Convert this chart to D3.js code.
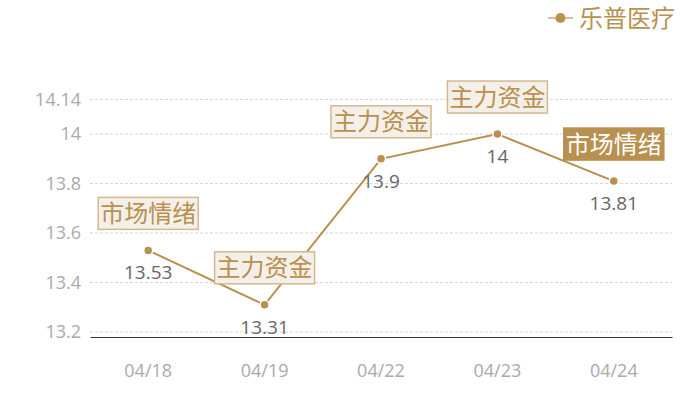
<!DOCTYPE html>
<html>
<head>
<meta charset="utf-8">
<script src="https://cdn.jsdelivr.net/npm/d3@7"></script>
<style>
    body { margin: 0; background: #fff; }
    text { font-family: "Noto Sans CJK SC", "Noto Sans", sans-serif; }
    .num { font-family: "Open Sans", "Noto Sans", sans-serif; }
</style>
</head>
<body>
<svg id="chart" width="700" height="400"></svg>
<script>
// chart data
let dates = ["04/18", "04/19", "04/22", "04/23", "04/24"];
let prices = [13.53, 13.31, 13.9, 14, 13.81];
let tags = ["市场情绪", "主力资金", "主力资金", "主力资金", "市场情绪"];
let highlighted = [false, false, false, false, true];
let yTicks = [13.2, 13.4, 13.6, 13.8, 14, 14.14];
let seriesName = "乐普医疗";

let gold = "#b8904f";
let svg = d3.select("#chart");

let plotLeft = 90, plotRight = 672, plotTop = 99.4, plotBottom = 337;

let xScale = d3.scaleBand()
    .domain(dates)
    .range([plotLeft, plotRight]);

let yScale = d3.scaleLinear()
    .domain([13.18, 14.14])
    .range([plotBottom, plotTop]);

let cx = d => xScale(d) + xScale.bandwidth() / 2;

// grid lines
svg.append("g")
    .selectAll("line")
    .data(yTicks)
    .enter()
    .append("line")
    .attr("x1", plotLeft)
    .attr("x2", plotRight)
    .attr("y1", d => yScale(d))
    .attr("y2", d => yScale(d))
    .attr("stroke", "#d6d6d6")
    .attr("stroke-dasharray", "3,2");

// y axis
let yAxis = d3.axisLeft(yScale)
    .tickValues(yTicks)
    .tickSize(0)
    .tickPadding(9)
    .tickFormat(d => d);
let yg = svg.append("g")
    .attr("transform", `translate(${plotLeft}, 0)`)
    .call(yAxis);
yg.select(".domain").remove();
yg.selectAll("text")
    .attr("class", "num")
    .attr("fill", "#aaaaaa")
    .style("font-size", "18px");

// x axis
let xAxis = d3.axisBottom(xScale)
    .tickSize(0)
    .tickPadding(27);
let xg = svg.append("g")
    .attr("transform", `translate(0, ${plotBottom})`)
    .call(xAxis);
xg.select(".domain").attr("stroke", "#333").attr("stroke-width", 1.2);
xg.selectAll("text")
    .attr("class", "num")
    .attr("fill", "#aaaaaa")
    .style("font-size", "18px");

// line
let line = d3.line()
    .x((d, i) => cx(dates[i]))
    .y(d => yScale(d));
svg.append("path")
    .datum(prices)
    .attr("d", line)
    .attr("fill", "none")
    .attr("stroke", gold)
    .attr("stroke-width", 2);

// points
svg.append("g")
    .selectAll("circle")
    .data(prices)
    .enter()
    .append("circle")
    .attr("cx", (d, i) => cx(dates[i]))
    .attr("cy", d => yScale(d))
    .attr("r", 4.5)
    .attr("fill", gold)
    .attr("stroke", "#fff")
    .attr("stroke-width", 1.5);

// value labels
svg.append("g")
    .selectAll("text")
    .data(prices)
    .enter()
    .append("text")
    .attr("class", "num")
    .attr("x", (d, i) => cx(dates[i]))
    .attr("y", d => yScale(d) + 29)
    .attr("text-anchor", "middle")
    .attr("fill", "#666")
    .style("font-size", "19px")
    .text(d => d);

// annotation boxes
let boxW = 100, boxH = 32;
let tagG = svg.append("g")
    .selectAll("g")
    .data(prices)
    .enter()
    .append("g")
    .attr("transform", (d, i) => `translate(${cx(dates[i]) - boxW / 2}, ${yScale(d) - 21 - boxH})`);

tagG.append("rect")
    .attr("width", boxW)
    .attr("height", boxH)
    .attr("fill", (d, i) => highlighted[i] ? gold : "#f4efe8")
    .attr("stroke", (d, i) => highlighted[i] ? gold : "#d2b88e")
    .attr("stroke-width", 1.5);

tagG.append("text")
    .attr("x", boxW / 2)
    .attr("y", boxH / 2 + 8.5)
    .attr("text-anchor", "middle")
    .attr("fill", (d, i) => highlighted[i] ? "#fff" : gold)
    .style("font-size", "24px")
    .text((d, i) => tags[i]);

// legend
let legend = svg.append("g").attr("transform", "translate(548, 18)");
legend.append("line")
    .attr("x1", 0).attr("x2", 25)
    .attr("stroke", "#d8bf98")
    .attr("stroke-width", 2);
legend.append("circle")
    .attr("cx", 12.5)
    .attr("r", 5)
    .attr("fill", gold);
legend.append("text")
    .attr("x", 31)
    .attr("y", 9)
    .attr("fill", gold)
    .style("font-size", "24px")
    .text(seriesName);
</script>
</body>
</html>
